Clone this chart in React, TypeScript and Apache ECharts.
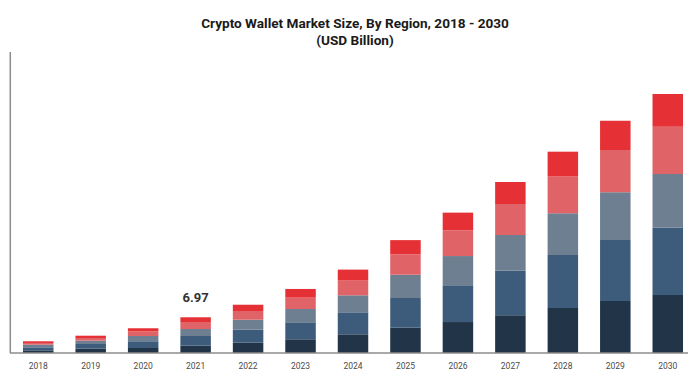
import React, { useEffect, useRef } from "react";
import * as echarts from "echarts";

const years = ["2018","2019","2020","2021","2022","2023","2024","2025","2026","2027","2028","2029","2030"];
const northAmerica = [0.52,0.85,0.98,1.43,2.01,2.68,3.65,4.94,6.05,7.36,8.79,10.16,11.33];
const europe = [0.59,0.91,1.30,1.89,2.54,3.32,4.30,5.80,7.17,8.73,10.35,11.91,13.14];
const asiaPacific = [0.52,0.65,1.04,1.37,1.95,2.60,3.32,4.55,5.72,6.97,8.14,9.32,10.49];
const latinAmerica = [0.33,0.52,0.92,1.37,1.70,2.21,2.87,3.97,5.02,6.05,7.17,8.26,9.24];
const mea = [0.33,0.45,0.59,0.92,1.23,1.70,2.15,2.79,3.46,4.30,4.88,5.72,6.39];
const highlightIndex = 3;
const highlightLabel = "6.97";

const seriesDefs = [
  { name: "North America", data: northAmerica, color: "#223447" },
  { name: "Europe", data: europe, color: "#3d5b7b" },
  { name: "Asia Pacific", data: asiaPacific, color: "#6d7f91" },
  { name: "Latin America", data: latinAmerica, color: "#e06467" },
  { name: "MEA", data: mea, color: "#e53135" },
];

export default function App() {
  const ref = useRef<HTMLDivElement>(null);
  useEffect(() => {
    if (!ref.current) return;
    const chart = echarts.init(ref.current, null, { renderer: "svg" });
    const series = seriesDefs.map((s, si) => ({
      name: s.name,
      type: "bar",
      stack: "total",
      barWidth: 30.5,
      itemStyle: { color: s.color },
      data: s.data.map((v, i) => {
        if (si === seriesDefs.length - 1 && i === highlightIndex) {
          return {
            value: v,
            label: {
              show: true,
              position: "top",
              distance: 13,
              formatter: highlightLabel,
              color: "#333333",
              fontSize: 13,
              fontWeight: "bold",
              fontFamily: "Roboto",
            },
          };
        }
        return v;
      }),
    }));
    chart.setOption({
      animation: false,
      backgroundColor: "#ffffff",
      title: {
        text: "Crypto Wallet Market Size, By Region, 2018 - 2030\n(USD Billion)",
        left: 350,
        textAlign: "center",
        top: 9,
        textStyle: {
          fontFamily: "Roboto",
          fontWeight: "bold",
          fontSize: 13.6,
          lineHeight: 17,
          color: "#1a1a1a",
        },
      },
      grid: { left: 12, right: 2, top: 52, bottom: 25 },
      xAxis: {
        type: "category",
        data: years,
        axisLine: { show: false },
        axisTick: { show: false },
        axisLabel: { color: "#4a4a4a", fontSize: 8.5, margin: 8, fontFamily: "Roboto" },
      },
      yAxis: {
        type: "value",
        min: 0,
        max: 58.8,
        show: false,
        splitLine: { show: false },
      },
      graphic: [
        { type: "line", shape: { x1: 10, y1: 353, x2: 688, y2: 353 }, style: { stroke: "#8c8c8c", lineWidth: 1.5 }, z: 10 },
        { type: "line", shape: { x1: 10.3, y1: 52, x2: 10.3, y2: 353 }, style: { stroke: "#8c8c8c", lineWidth: 1.5 }, z: 10 },
      ],
      series,
    });
    return () => chart.dispose();
  }, []);
  return (
    <div
      ref={ref}
      style={{ position: "absolute", left: 0, top: 0, width: 696, height: 378 }}
    />
  );
}
